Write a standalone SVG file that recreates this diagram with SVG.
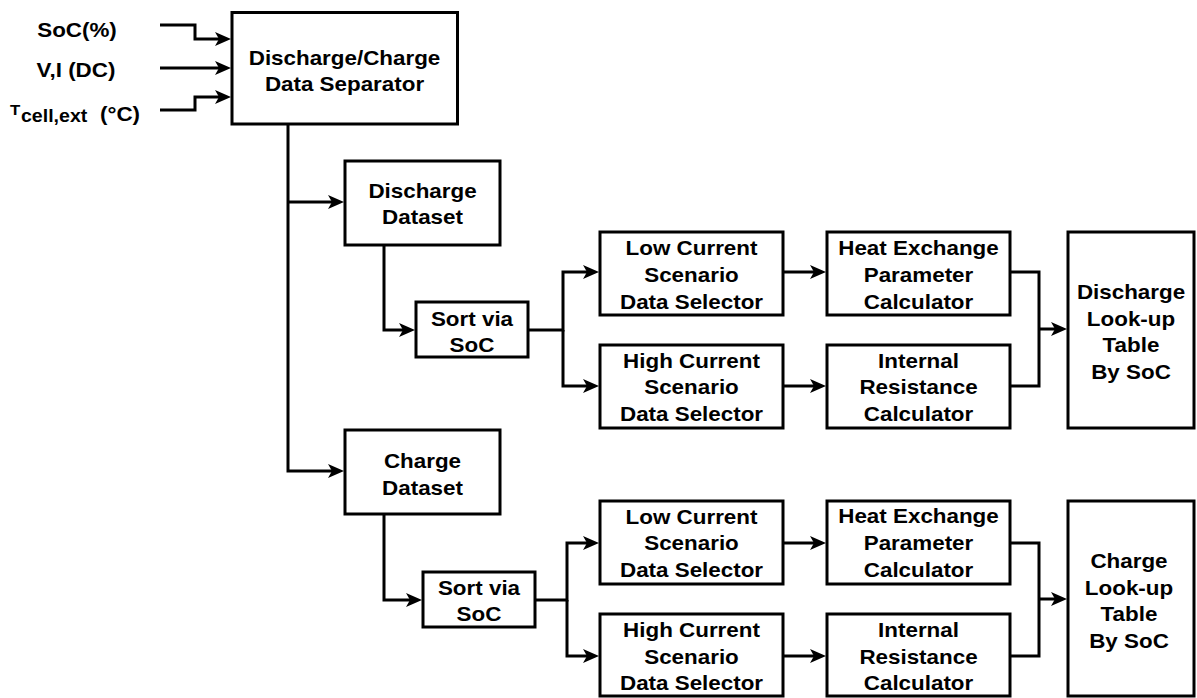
<svg xmlns="http://www.w3.org/2000/svg" width="1197" height="698" viewBox="0 0 1197 698">
<style>
.box{fill:#fff;stroke:#000;stroke-width:3}
.c{fill:none;stroke:#000;stroke-width:3;stroke-linejoin:miter}
.a{marker-end:url(#arr)}
.t{font-family:"Liberation Sans",Arial,Helvetica,sans-serif;font-weight:bold;font-size:20px;text-anchor:middle;fill:#000}
.s{text-anchor:start}
</style>
<defs>
<marker id="arr" markerUnits="userSpaceOnUse" viewBox="0 0 16 14" refX="4" refY="7" markerWidth="16" markerHeight="14" orient="auto">
<path d="M0,0 L16,7 L0,14 L4,7 Z" fill="#000"/>
</marker>
</defs>
<rect width="1197" height="698" fill="#fff"/>
<g id="inputs">
<text class="t" transform="translate(77,0) scale(1.12,1)"><tspan x="0" y="37">SoC(%)</tspan></text>
<text class="t" transform="translate(76,0) scale(1.12,1)"><tspan x="0" y="77">V,I (DC)</tspan></text>
<text class="t s" transform="translate(10,0) scale(1.12,1)"><tspan x="0" y="115" font-size="15">T</tspan><tspan x="9.8" y="122" font-size="17.5">cell,ext</tspan><tspan x="80.4" y="121">(°C)</tspan></text>
</g>
<g id="connectors">
<path class="c a" d="M160,25 H195 V39 H219"/>
<path class="c a" d="M160,68 H219"/>
<path class="c a" d="M160,110 H195 V97 H219"/>
<path class="c a" d="M288,124 V471 H332"/>
<path class="c a" d="M288,202 H332"/>
<path class="c a" d="M384,245 V330 H403"/>
<path class="c a" d="M529,330 H563 V272 H587"/>
<path class="c a" d="M563,330 V386 H587"/>
<path class="c a" d="M784,272 H814"/>
<path class="c a" d="M784,386 H814"/>
<path class="c" d="M1011,272 H1039 V386 H1011"/>
<path class="c a" d="M1039,329 H1055"/>
<path class="c a" d="M384,514 V600 H410"/>
<path class="c a" d="M536,600 H567 V543 H587"/>
<path class="c a" d="M567,600 V656 H587"/>
<path class="c a" d="M784,543 H814"/>
<path class="c a" d="M784,656 H814"/>
<path class="c" d="M1011,543 H1039 V656 H1011"/>
<path class="c a" d="M1039,599 H1055"/>
</g>
<g id="separator">
<rect class="box" x="232" y="12.5" width="225.5" height="111.5"/>
<text class="t" transform="translate(344.5,0) scale(1.12,1)"><tspan x="0" y="65">Discharge/Charge</tspan><tspan x="0" y="91">Data Separator</tspan></text>
</g>
<g id="discharge-dataset">
<rect class="box" x="345" y="161" width="155" height="84"/>
<text class="t" transform="translate(422.5,0) scale(1.12,1)"><tspan x="0" y="198">Discharge</tspan><tspan x="0" y="224.5">Dataset</tspan></text>
</g>
<g id="discharge-sort">
<rect class="box" x="416" y="302" width="112" height="55"/>
<text class="t" transform="translate(472,0) scale(1.12,1)"><tspan x="0" y="326">Sort via</tspan><tspan x="0" y="352.5">SoC</tspan></text>
</g>
<g id="discharge-low">
<rect class="box" x="600" y="232" width="183" height="83"/>
<text class="t" transform="translate(691.5,0) scale(1.12,1)"><tspan x="0" y="255">Low Current</tspan><tspan x="0" y="282">Scenario</tspan><tspan x="0" y="309">Data Selector</tspan></text>
</g>
<g id="discharge-high">
<rect class="box" x="600" y="345" width="183" height="83"/>
<text class="t" transform="translate(691.5,0) scale(1.12,1)"><tspan x="0" y="368">High Current</tspan><tspan x="0" y="394.5">Scenario</tspan><tspan x="0" y="421">Data Selector</tspan></text>
</g>
<g id="discharge-heat">
<rect class="box" x="827" y="232" width="183" height="83"/>
<text class="t" transform="translate(918.5,0) scale(1.12,1)"><tspan x="0" y="255">Heat Exchange</tspan><tspan x="0" y="282">Parameter</tspan><tspan x="0" y="309">Calculator</tspan></text>
</g>
<g id="discharge-ir">
<rect class="box" x="827" y="345" width="183" height="83"/>
<text class="t" transform="translate(918.5,0) scale(1.12,1)"><tspan x="0" y="368">Internal</tspan><tspan x="0" y="394.5">Resistance</tspan><tspan x="0" y="421">Calculator</tspan></text>
</g>
<g id="discharge-lut">
<rect class="box" x="1068" y="232" width="126" height="196"/>
<text class="t" transform="translate(1131,0) scale(1.12,1)"><tspan x="0" y="299">Discharge</tspan><tspan x="0" y="326">Look-up</tspan><tspan x="0" y="352.5">Table</tspan><tspan x="0" y="379">By SoC</tspan></text>
</g>
<g id="charge-dataset">
<rect class="box" x="345" y="430" width="155" height="84"/>
<text class="t" transform="translate(422.5,0) scale(1.12,1)"><tspan x="0" y="468.5">Charge</tspan><tspan x="0" y="495">Dataset</tspan></text>
</g>
<g id="charge-sort">
<rect class="box" x="423" y="572" width="112" height="55"/>
<text class="t" transform="translate(479,0) scale(1.12,1)"><tspan x="0" y="595">Sort via</tspan><tspan x="0" y="621.5">SoC</tspan></text>
</g>
<g id="charge-low">
<rect class="box" x="600" y="501" width="183" height="83"/>
<text class="t" transform="translate(691.5,0) scale(1.12,1)"><tspan x="0" y="524">Low Current</tspan><tspan x="0" y="550.5">Scenario</tspan><tspan x="0" y="577">Data Selector</tspan></text>
</g>
<g id="charge-high">
<rect class="box" x="600" y="614" width="183" height="82"/>
<text class="t" transform="translate(691.5,0) scale(1.12,1)"><tspan x="0" y="637.5">High Current</tspan><tspan x="0" y="664">Scenario</tspan><tspan x="0" y="690">Data Selector</tspan></text>
</g>
<g id="charge-heat">
<rect class="box" x="827" y="501" width="183" height="83"/>
<text class="t" transform="translate(918.5,0) scale(1.12,1)"><tspan x="0" y="523.5">Heat Exchange</tspan><tspan x="0" y="550">Parameter</tspan><tspan x="0" y="577">Calculator</tspan></text>
</g>
<g id="charge-ir">
<rect class="box" x="827" y="614" width="183" height="82"/>
<text class="t" transform="translate(918.5,0) scale(1.12,1)"><tspan x="0" y="637.5">Internal</tspan><tspan x="0" y="664">Resistance</tspan><tspan x="0" y="690.5">Calculator</tspan></text>
</g>
<g id="charge-lut">
<rect class="box" x="1068" y="501" width="126" height="195"/>
<text class="t" transform="translate(1129,0) scale(1.12,1)"><tspan x="0" y="568">Charge</tspan><tspan x="0" y="595">Look-up</tspan><tspan x="0" y="621.5">Table</tspan><tspan x="0" y="648">By SoC</tspan></text>
</g>
</svg>
